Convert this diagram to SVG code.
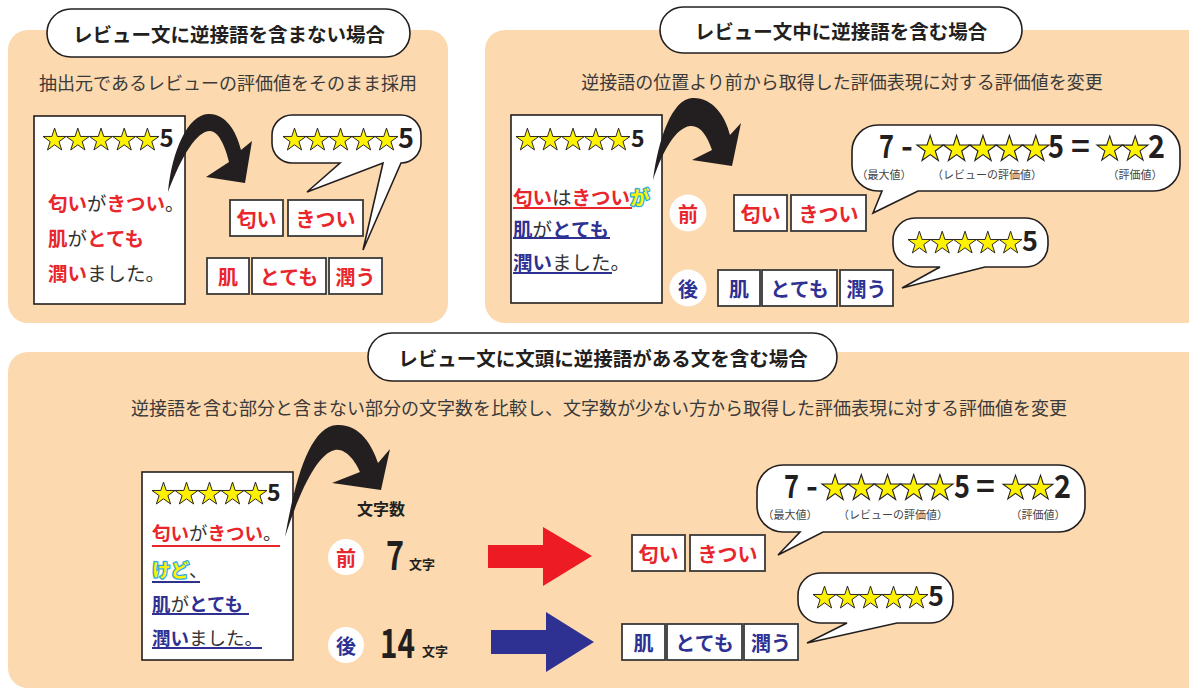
<svg xmlns="http://www.w3.org/2000/svg" width="1189" height="690" viewBox="0 0 1189 690">
<defs>
<style>
text{font-family:"Noto Sans CJK JP","Noto Sans",sans-serif;}
.panel{fill:#FCD9AE;}
.pill{fill:#fff;stroke:#231F20;stroke-width:1.6;}
.ttl{font-size:19.5px;font-weight:700;fill:#231F20;text-anchor:middle;dominant-baseline:central;}
.sub{font-size:18px;font-weight:400;fill:#3a3a3a;text-anchor:middle;dominant-baseline:central;}
.card{fill:#fff;stroke:#231F20;stroke-width:1.6;}
.bub{fill:#fff;stroke:#231F20;stroke-width:1.6;stroke-linejoin:miter;}
.wbox{fill:#fff;stroke:#3a3a3a;stroke-width:1.8;}
.w{font-size:20px;font-weight:700;text-anchor:middle;dominant-baseline:central;}
.r{fill:#E8262C;}
.b{fill:#2E3192;}
.ln{font-size:19.5px;dominant-baseline:central;fill:#333;}
.ln3{font-size:18.5px;dominant-baseline:central;fill:#333;}
.bd{font-weight:700;}
.hl{fill:#FFF200;stroke:#29ABE2;stroke-width:2.6px;paint-order:stroke fill;stroke-linejoin:round;font-weight:700;}
.ulr{stroke:#E8262C;stroke-width:2;}
.ulb{stroke:#2E3192;stroke-width:2;}
.star{fill:#FFF200;stroke:#231F20;stroke-width:0.8;stroke-linejoin:miter;}
.num{font-weight:700;fill:#231F20;}
.lbl{font-size:11px;fill:#444;text-anchor:middle;dominant-baseline:central;}
.circ{fill:#fff;}
.ca{fill:#231F20;}
.cc{font-size:20px;font-weight:700;text-anchor:middle;dominant-baseline:central;}
</style>
<path id="st" class="star" d="M0,-10 L2.245,-3.09 L9.511,-3.09 L3.633,1.18 L5.878,8.09 L0,3.82 L-5.878,8.09 L-3.633,1.18 L-9.511,-3.09 L-2.245,-3.09 Z"/>
</defs>
<rect width="1189" height="690" fill="#fff"/>

<!-- Panel backgrounds -->
<rect class="panel" x="8" y="30" width="440" height="293" rx="20"/>
<rect class="panel" x="485" y="30" width="730" height="293" rx="20"/>
<rect class="panel" x="8" y="352" width="1210" height="336" rx="20"/>

<!-- Panel 1 -->
<g id="title1">
<rect class="pill" x="47" y="9" width="363" height="48" rx="24"/>
<text class="ttl" x="229" y="33">レビュー文に逆接語を含まない場合</text>
</g>
<text class="sub" x="228" y="82">抽出元であるレビューの評価値をそのまま採用</text>

<g id="review1">
<rect class="card" x="34" y="116" width="151" height="188"/>
<use href="#st" transform="translate(54.6,140.2) scale(1.21)"/>
<use href="#st" transform="translate(77.8,140.2) scale(1.21)"/>
<use href="#st" transform="translate(101,140.2) scale(1.21)"/>
<use href="#st" transform="translate(124.2,140.2) scale(1.21)"/>
<use href="#st" transform="translate(147.4,140.2) scale(1.21)"/>
<text class="num" x="159.5" y="147" font-size="24">5</text>
<text class="ln" x="48" y="202"><tspan class="r bd">匂い</tspan>が<tspan class="r bd">きつい</tspan>。</text>
<text class="ln" x="48" y="237"><tspan class="r bd">肌</tspan>が<tspan class="r bd">とても</tspan></text>
<text class="ln" x="48" y="272"><tspan class="r bd">潤い</tspan>ました。</text>
</g>

<g id="bubble1">
<path class="bub" d="M292,115 H401 A20,20 0 0 1 421,135 V143 A20,20 0 0 1 401,163 L363,250 L383,163 L307,192 L340,163 H292 A20,20 0 0 1 272,143 V135 A20,20 0 0 1 292,115 Z"/>
<use href="#st" transform="translate(294.5,140.2) scale(1.21)"/>
<use href="#st" transform="translate(317.5,140.2) scale(1.21)"/>
<use href="#st" transform="translate(340.5,140.2) scale(1.21)"/>
<use href="#st" transform="translate(363.5,140.2) scale(1.21)"/>
<use href="#st" transform="translate(386.5,140.2) scale(1.21)"/>
<text class="num" x="398" y="148" font-size="27">5</text>
</g>

<g id="words1">
<rect class="wbox" x="230" y="200" width="53" height="36"/><text class="w r" x="256.5" y="218">匂い</text>
<rect class="wbox" x="288" y="200" width="75" height="36"/><text class="w r" x="325.5" y="218">きつい</text>
<rect class="wbox" x="207" y="258" width="42" height="36"/><text class="w r" x="228" y="276">肌</text>
<rect class="wbox" x="252" y="258" width="74" height="36"/><text class="w r" x="289" y="276">とても</text>
<rect class="wbox" x="329" y="258" width="53" height="36"/><text class="w r" x="355.5" y="276">潤う</text>
</g>

<!-- Panel 2 -->
<g id="title2">
<rect class="pill" x="660" y="7" width="362" height="46" rx="23"/>
<text class="ttl" x="841" y="30">レビュー文中に逆接語を含む場合</text>
</g>
<text class="sub" x="842" y="81">逆接語の位置より前から取得した評価表現に対する評価値を変更</text>

<g id="review2">
<rect class="card" x="511" y="115" width="151" height="188"/>
<use href="#st" transform="translate(527.4,140.2) scale(1.2)"/>
<use href="#st" transform="translate(550.2,140.2) scale(1.2)"/>
<use href="#st" transform="translate(573,140.2) scale(1.2)"/>
<use href="#st" transform="translate(595.8,140.2) scale(1.2)"/>
<use href="#st" transform="translate(618.6,140.2) scale(1.2)"/>
<text class="num" x="631" y="147" font-size="23">5</text>
<text class="ln" x="513" y="196"><tspan class="r bd">匂い</tspan>は<tspan class="r bd">きつい</tspan><tspan class="hl">が</tspan></text>
<line class="ulr" x1="513" y1="208" x2="632" y2="208"/>
<text class="ln" x="513" y="228"><tspan class="b bd">肌</tspan>が<tspan class="b bd">とても</tspan></text>
<line class="ulb" x1="513" y1="238" x2="610" y2="238"/>
<text class="ln" x="513" y="261"><tspan class="b bd">潤い</tspan>ました。</text>
<line class="ulb" x1="513" y1="273" x2="612" y2="273"/>
</g>

<g id="mark2a"><circle class="circ" cx="688" cy="213" r="18.5"/><text class="cc r" x="688" y="213">前</text></g>
<g id="mark2b"><circle class="circ" cx="688" cy="288" r="18.5"/><text class="cc b" x="688" y="288">後</text></g>

<g id="words2">
<rect class="wbox" x="734" y="195" width="53" height="36"/><text class="w r" x="760.5" y="213">匂い</text>
<rect class="wbox" x="791" y="195" width="75" height="36"/><text class="w r" x="828.5" y="213">きつい</text>
<rect class="wbox" x="718" y="270" width="42" height="36"/><text class="w b" x="739" y="288">肌</text>
<rect class="wbox" x="762" y="270" width="75" height="36"/><text class="w b" x="799.5" y="288">とても</text>
<rect class="wbox" x="840" y="270" width="53" height="36"/><text class="w b" x="866.5" y="288">潤う</text>
</g>

<g id="bubble2a">
<path class="bub" d="M878,125 H1154 A26,26 0 0 1 1180,151 V165 A26,26 0 0 1 1154,191 H918 L873,213 L882,191 H878 A26,26 0 0 1 852,165 V151 A26,26 0 0 1 878,125 Z"/>
<text class="num" x="879" y="158" font-size="32" textLength="15" lengthAdjust="spacingAndGlyphs">7</text>
<text class="num" x="901" y="158" font-size="32">-</text>
<use href="#st" transform="translate(930.2,149.3) scale(1.39)"/>
<use href="#st" transform="translate(956.6,149.3) scale(1.39)"/>
<use href="#st" transform="translate(983,149.3) scale(1.39)"/>
<use href="#st" transform="translate(1009.4,149.3) scale(1.39)"/>
<use href="#st" transform="translate(1035.8,149.3) scale(1.39)"/>
<text class="num" x="1048" y="158" font-size="32" textLength="16" lengthAdjust="spacingAndGlyphs">5</text>
<text class="num" x="1071" y="158" font-size="32">=</text>
<use href="#st" transform="translate(1109.7,149.3) scale(1.34)"/>
<use href="#st" transform="translate(1135.2,149.3) scale(1.34)"/>
<text class="num" x="1148" y="158" font-size="32" textLength="17" lengthAdjust="spacingAndGlyphs">2</text>
<text class="lbl" x="884" y="174">（最大値）</text>
<text class="lbl" x="987" y="174">（レビューの評価値）</text>
<text class="lbl" x="1135" y="174">（評価値）</text>
</g>

<g id="bubble2b">
<path class="bub" d="M915,218 H1026 A22,22 0 0 1 1048,240 V245 A22,22 0 0 1 1026,267 H985 L902,288 L940,267 H915 A22,22 0 0 1 893,245 V240 A22,22 0 0 1 915,218 Z"/>
<use href="#st" transform="translate(919.4,243.2) scale(1.2)"/>
<use href="#st" transform="translate(942.2,243.2) scale(1.2)"/>
<use href="#st" transform="translate(965,243.2) scale(1.2)"/>
<use href="#st" transform="translate(987.8,243.2) scale(1.2)"/>
<use href="#st" transform="translate(1010.6,243.2) scale(1.2)"/>
<text class="num" x="1022" y="251" font-size="27">5</text>
</g>

<!-- Panel 3 -->
<g id="title3">
<rect class="pill" x="368" y="333" width="469" height="48" rx="24"/>
<text class="ttl" x="603" y="357">レビュー文に文頭に逆接語がある文を含む場合</text>
</g>
<text class="sub" x="599" y="407">逆接語を含む部分と含まない部分の文字数を比較し、文字数が少ない方から取得した評価表現に対する評価値を変更</text>

<g id="review3">
<rect class="card" x="142" y="472" width="151" height="188"/>
<use href="#st" transform="translate(163.5,494.2) scale(1.21)"/>
<use href="#st" transform="translate(186.5,494.2) scale(1.21)"/>
<use href="#st" transform="translate(209.5,494.2) scale(1.21)"/>
<use href="#st" transform="translate(232.5,494.2) scale(1.21)"/>
<use href="#st" transform="translate(255.5,494.2) scale(1.21)"/>
<text class="num" x="267" y="501" font-size="23">5</text>
<text class="ln3" x="152" y="532"><tspan class="r bd">匂い</tspan>が<tspan class="r bd">きつい</tspan>。</text>
<line class="ulr" x1="152" y1="546" x2="280" y2="546"/>
<text class="ln3" x="152" y="569"><tspan class="hl">けど</tspan>、</text>
<line class="ulb" x1="152" y1="582" x2="200" y2="582"/>
<text class="ln3" x="152" y="603"><tspan class="b bd">肌</tspan>が<tspan class="b bd">とても</tspan></text>
<line class="ulb" x1="152" y1="614" x2="249" y2="614"/>
<text class="ln3" x="152" y="637"><tspan class="b bd">潤い</tspan>ました。</text>
<line class="ulb" x1="152" y1="648" x2="262" y2="648"/>
</g>

<g id="count">
<text x="381" y="508" font-size="16" font-weight="700" fill="#231F20" text-anchor="middle" dominant-baseline="central">文字数</text>
</g>
<g id="mark3a">
<circle class="circ" cx="346" cy="557" r="18"/><text class="cc r" x="346" y="557">前</text>
<text class="num" x="386" y="570" font-size="40" textLength="18" lengthAdjust="spacingAndGlyphs">7</text>
<text class="num" x="409" y="569" font-size="13">文字</text>
</g>
<g id="mark3b">
<circle class="circ" cx="346" cy="645" r="18"/><text class="cc b" x="346" y="645">後</text>
<text class="num" x="380" y="658" font-size="40" textLength="35" lengthAdjust="spacingAndGlyphs">14</text>
<text class="num" x="422" y="656" font-size="13">文字</text>
</g>

<g id="words3">
<rect class="wbox" x="632" y="535" width="53" height="36"/><text class="w r" x="658.5" y="553">匂い</text>
<rect class="wbox" x="690" y="535" width="75" height="36"/><text class="w r" x="727.5" y="553">きつい</text>
<rect class="wbox" x="622" y="624" width="43" height="36"/><text class="w b" x="643.5" y="642">肌</text>
<rect class="wbox" x="667" y="624" width="75" height="36"/><text class="w b" x="704.5" y="642">とても</text>
<rect class="wbox" x="744" y="624" width="54" height="36"/><text class="w b" x="771" y="642">潤う</text>
</g>

<g id="bubble3a">
<path class="bub" d="M783,465 H1059 A26,26 0 0 1 1085,491 V506 A26,26 0 0 1 1059,532 H823 L778,555 L800,532 H783 A26,26 0 0 1 757,506 V491 A26,26 0 0 1 783,465 Z"/>
<text class="num" x="784" y="498" font-size="32" textLength="15" lengthAdjust="spacingAndGlyphs">7</text>
<text class="num" x="806" y="498" font-size="32">-</text>
<use href="#st" transform="translate(835.1,488.3) scale(1.38)"/>
<use href="#st" transform="translate(861.3,488.3) scale(1.38)"/>
<use href="#st" transform="translate(887.5,488.3) scale(1.38)"/>
<use href="#st" transform="translate(913.7,488.3) scale(1.38)"/>
<use href="#st" transform="translate(939.9,488.3) scale(1.38)"/>
<text class="num" x="954" y="498" font-size="32" textLength="16" lengthAdjust="spacingAndGlyphs">5</text>
<text class="num" x="976" y="498" font-size="32">=</text>
<use href="#st" transform="translate(1015.5,488.3) scale(1.31)"/>
<use href="#st" transform="translate(1040.5,488.3) scale(1.31)"/>
<text class="num" x="1054" y="498" font-size="32" textLength="17" lengthAdjust="spacingAndGlyphs">2</text>
<text class="lbl" x="790" y="514">（最大値）</text>
<text class="lbl" x="893" y="514">（レビューの評価値）</text>
<text class="lbl" x="1038" y="514">（評価値）</text>
</g>

<g id="bubble3b">
<path class="bub" d="M820,573 H931 A22,22 0 0 1 953,595 V601 A22,22 0 0 1 931,623 H897 L807,643 L847,623 H820 A22,22 0 0 1 798,601 V595 A22,22 0 0 1 820,573 Z"/>
<use href="#st" transform="translate(824.5,598.2) scale(1.21)"/>
<use href="#st" transform="translate(847.5,598.2) scale(1.21)"/>
<use href="#st" transform="translate(870.5,598.2) scale(1.21)"/>
<use href="#st" transform="translate(893.5,598.2) scale(1.21)"/>
<use href="#st" transform="translate(916.5,598.2) scale(1.21)"/>
<text class="num" x="928" y="606" font-size="27">5</text>
</g>

<!-- Connectors -->
<g id="connectors">
<path class="ca" d="M168,192 C172,150 188,115 208,114 C225,113 236,130 241,150 L252,141 L245,183 L206,177 L229,162 C225,145 218,131 210,131 C197,131 182,155 168,192 Z"/>
<path class="ca" d="M653,180 C658,140 672,99 692,98 C712,97 725,115 730,135 L741,123 L732,166 L692,160 L712,150 C707,135 700,125 690,126 C676,128 663,150 653,180 Z"/>
<path class="ca" d="M285,537 C295,480 310,426 337,425 C360,424 372,445 378,463 L390,449 L381,490 L332,483 L360,472 C355,460 345,448 335,450 C318,453 300,490 285,537 Z"/>
<polygon fill="#ED1C24" points="488,545 543,545 543,527 592,556 543,586 543,568 488,568"/>
<polygon fill="#2E3192" points="491,630 546,630 546,612 594,642 546,672 546,654 491,654"/>
</g>
</svg>
